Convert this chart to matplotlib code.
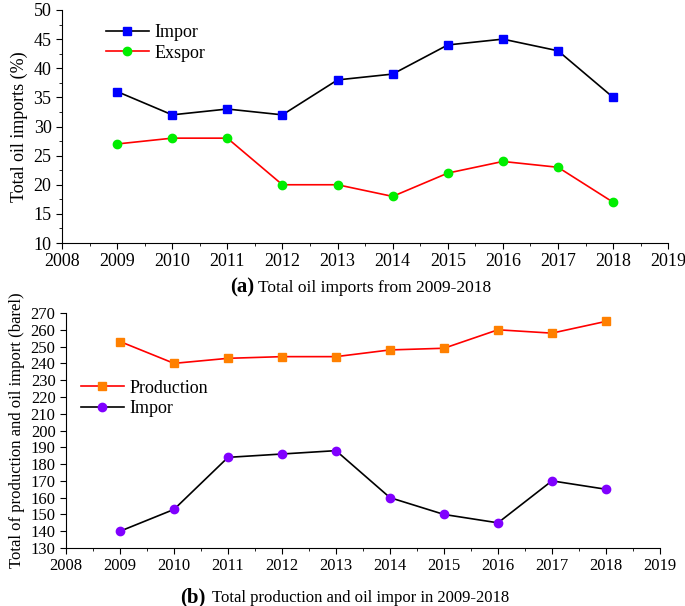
#Plots total oil imports/exports and production vs imports, 2009-2018
import matplotlib.pyplot as plt
from matplotlib.ticker import MultipleLocator

plt.rcParams['font.family'] = ['Liberation Serif', 'DejaVu Serif']

years = [2009, 2010, 2011, 2012, 2013, 2014, 2015, 2016, 2017, 2018]
impor_pct = [36, 32, 33, 32, 38, 39, 44, 45, 43, 35]
exspor_pct = [27, 28, 28, 20, 20, 18, 22, 24, 23, 17]
production = [253, 240, 243, 244, 244, 248, 249, 260, 258, 265]
impor_barel = [140, 153, 184, 186, 188, 160, 150, 145, 170, 165]

fig = plt.figure(figsize=(6.85, 6.06), dpi=100)

#Styles both panels the same way
def style_axes(ax, ymin, ymax, ystep, yminor, fsize):
    ax.set_xlim(2008, 2019)
    ax.set_ylim(ymin, ymax)
    ax.xaxis.set_major_locator(MultipleLocator(1))
    ax.xaxis.set_minor_locator(MultipleLocator(0.5))
    ax.yaxis.set_major_locator(MultipleLocator(ystep))
    if yminor:
        ax.yaxis.set_minor_locator(MultipleLocator(yminor))
    ax.spines['top'].set_visible(False)
    ax.spines['right'].set_visible(False)
    ax.tick_params(which='major', direction='out', length=4, labelsize=fsize)
    ax.tick_params(which='minor', direction='out', length=2)

#Panel (a)
ax1 = fig.add_axes([0.0905, 0.599, 0.885, 0.3845])
ax1.plot(years, impor_pct, color='black', lw=1.2, marker='s', ms=6,
         mfc='#0000FF', mec='#0000FF', label='Impor')
ax1.plot(years, exspor_pct, color='#FF0000', lw=1.2, marker='o', ms=6,
         mfc='#00EE00', mec='#00EE00', label='Exspor')
style_axes(ax1, 10, 50, 5, 2.5, 13)
ax1.set_ylabel('Total oil imports (%)', fontsize=13)
ax1.legend(loc='upper left', bbox_to_anchor=(0.045, 1.01), frameon=False,
           fontsize=13, handlelength=2.4, handletextpad=0.3, labelspacing=0.2)

#Panel (b)
ax2 = fig.add_axes([0.0964, 0.0957, 0.867, 0.3878])
ax2.plot(years, production, color='#FF0000', lw=1.2, marker='s', ms=6,
         mfc='#FF8000', mec='#FF8000', label='Production')
ax2.plot(years, impor_barel, color='black', lw=1.2, marker='o', ms=6,
         mfc='#8000FF', mec='#8000FF', label='Impor')
style_axes(ax2, 130, 270, 10, None, 12)
ax2.set_ylabel('Total of production and oil import (barel)', fontsize=12)
ax2.legend(loc='upper left', bbox_to_anchor=(-0.003, 0.785), frameon=False,
           fontsize=13, handlelength=2.4, handletextpad=0.3, labelspacing=0.2)

#Captions under each panel
fig.text(0.336, 1 - 292/606, '(a)', fontsize=15, fontweight='bold')
fig.text(0.377, 1 - 292/606, 'Total oil imports from 2009-2018', fontsize=12.5)
fig.text(0.263, 1 - 602/606, '(b)', fontsize=15, fontweight='bold')
fig.text(0.309, 1 - 602/606, 'Total production and oil impor in 2009-2018', fontsize=12)

fig.savefig('out.png', dpi=100)
